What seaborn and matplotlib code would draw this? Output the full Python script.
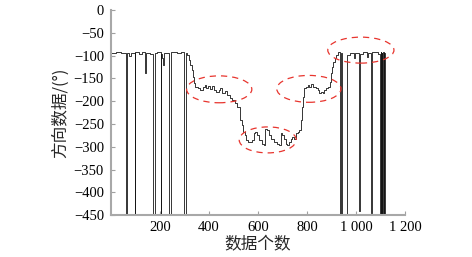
import numpy as np
import pandas as pd
import seaborn as sns
import matplotlib.pyplot as plt
from matplotlib.patches import Ellipse

# sample index where each step starts, and the direction value held from there
sample_idx = [
    1, 20, 40, 60, 66, 75, 82, 97, 100, 115, 125, 141, 144, 160, 172, 181,
    190, 203, 205, 208, 213, 216, 236, 244, 255, 270, 285, 298, 305,
    310, 318, 323, 330, 336, 340, 345, 355, 365, 375, 382, 390, 397, 404,
    412, 420, 430, 440, 447, 455, 465, 475, 485, 495, 505, 515, 526, 533,
    540, 546, 553, 560, 575, 582, 589, 596, 603, 615, 623, 630, 638, 645,
    652, 665, 678, 686, 693, 700, 707, 714, 720, 727, 734, 741, 748, 755,
    762, 769, 775, 779, 783, 789, 796, 803, 810, 818, 825, 830, 837, 844,
    851, 858, 864, 871, 878, 885, 892, 899, 903, 908, 913, 919, 926,
    934, 938, 943, 962, 975, 990, 997, 1011, 1017, 1030, 1045, 1050, 1060,
    1067, 1080, 1090, 1098, 1101, 1103, 1106, 1108, 1111, 1113, 1116, 1119,
]
direction = [
    -95, -92, -94, -450, -95, -100, -94, -450, -93, -96, -92, -138, -94, -97, -450, -95,
    -93, -450, -96, -106, -120, -95, -450, -93, -92, -94, -92, -450, -95,
    -99, -110, -121, -132, -146, -161, -168, -172, -175, -170, -165, -172, -167, -173,
    -166, -175, -179, -176, -172, -181, -178, -187, -192, -198, -204, -212, -241, -252,
    -267, -274, -285, -289, -285, -270, -267, -274, -285, -293, -296, -260, -263, -274,
    -282, -289, -293, -296, -270, -274, -282, -293, -296, -289, -282, -278, -282, -270,
    -267, -263, -241, -212, -190, -172, -168, -165, -168, -163, -170, -168, -172, -176,
    -183, -179, -183, -176, -172, -168, -157, -139, -124, -113, -106, -99, -92,
    -450, -95, -450, -99, -95, -106, -95, -440, -97, -92, -102, -95, -446,
    -93, -92, -96, -450, -92, -450, -94, -450, -92, -450, -95, -450,
]

x_ticks = [200, 400, 600, 800, 1000, 1200]
x_tick_labels = ["200", "400", "600", "800", "1 000", "1 200"]
y_ticks = [0, -50, -100, -150, -200, -250, -300, -350, -400, -450]

# highlighted regions (centre x, centre y, width, height) in data units
ellipse_cx = [442, 640, 808, 1020]
ellipse_cy = [-174, -285, -173, -88]
ellipse_w = [266, 233, 262, 270]
ellipse_h = [59, 57, 59, 57]

df = pd.DataFrame({"idx": sample_idx, "dir": direction})

sns.set_style("ticks")
plt.rcParams["font.family"] = ["Liberation Serif", "Noto Sans CJK SC"]
plt.rcParams["axes.unicode_minus"] = True

fig = plt.figure(figsize=(4.72, 2.57), dpi=100)
ax = fig.add_axes([0.235, 0.163, 0.623, 0.798])

sns.lineplot(data=df, x="idx", y="dir", drawstyle="steps-post", estimator=None,
             color="#151515", linewidth=0.6, ax=ax)

for cx, cy, w, h in zip(ellipse_cx, ellipse_cy, ellipse_w, ellipse_h):
    ax.add_patch(Ellipse((cx, cy), w, h, fill=False, edgecolor="#e8352e",
                         linestyle=(0, (5, 4)), linewidth=0.9, zorder=3))

ax.set_xlim(0, 1200)
ax.set_ylim(-450, 0)
ax.set_xticks(x_ticks)
ax.set_xticklabels(x_tick_labels)
ax.set_yticks(y_ticks)
ax.set_yticklabels([f"\u2212{abs(v)}" if v < 0 else str(v) for v in y_ticks])

ax.tick_params(direction="in", length=3, width=0.8, color="#a0a0a0",
               labelsize=10.5, labelcolor="black")
ax.tick_params(axis="y", pad=5)
ax.tick_params(axis="x", pad=4)

for side in ["top", "right"]:
    ax.spines[side].set_visible(False)
for side in ["left", "bottom"]:
    ax.spines[side].set_color("#a8a8a8")
    ax.spines[side].set_linewidth(1.5)

ax.set_xlabel("数据个数", fontsize=12, family=["Noto Sans CJK SC", "DejaVu Sans"], labelpad=2)
ax.set_ylabel("方向数据/(°)", fontsize=12, family=["Noto Sans CJK SC", "DejaVu Sans"], labelpad=3)

fig.savefig("out.png", dpi=100)
